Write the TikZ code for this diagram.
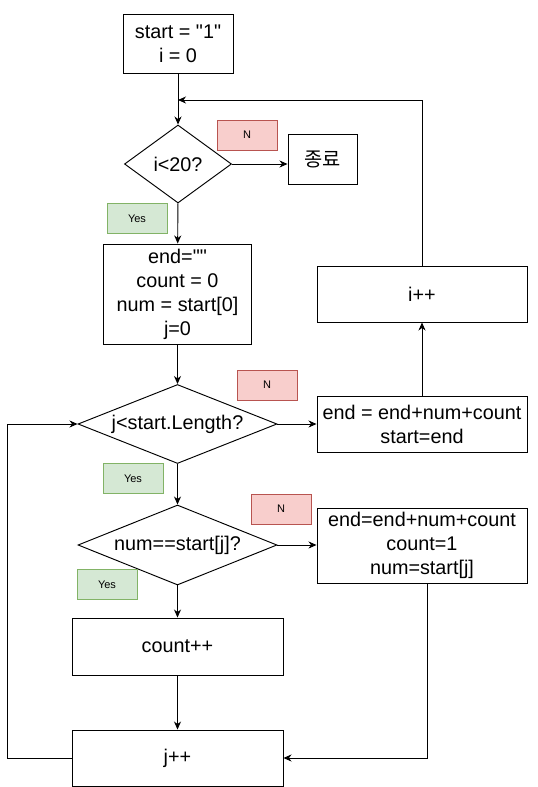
\documentclass[tikz,border=0pt]{standalone}
\usepackage{fontspec}
\setmainfont{Liberation Sans}
\newfontfamily\kofont{Noto Sans CJK KR}
\usetikzlibrary{arrows.meta,shapes.geometric,positioning}
\definecolor{nfill}{HTML}{F8CECC}
\definecolor{nline}{HTML}{B85450}
\definecolor{yfill}{HTML}{D5E8D4}
\definecolor{yline}{HTML}{82B366}
\newcommand{\dq}{\textquotedbl}
\begin{document}
\begin{tikzpicture}[
    x=1pt, y=-1pt,
    line width=0.95pt,
    font=\fontsize{19.8}{24}\selectfont,
    box/.style={rectangle, draw, align=center, inner sep=0pt},
    decision/.style={diamond, draw, inner sep=0pt, aspect=2.5},
    nlabel/.style={rectangle, draw=nline, fill=nfill, line width=0.8pt, minimum width=60, minimum height=30, inner sep=0pt, font=\fontsize{11}{13}\selectfont},
    ylabel/.style={rectangle, draw=yline, fill=yfill, line width=0.8pt, minimum width=60, minimum height=30, inner sep=0pt, font=\fontsize{11}{13}\selectfont},
    flow/.style={-{Stealth[length=8pt,width=7pt,inset=2.5pt]}}
]
\useasboundingbox (0,0) rectangle (538,787);

% Main column
\node[box, minimum width=110, minimum height=59] (init) at (178,43.5) {start = \dq1\dq\\i = 0};
\coordinate (merge) at (178,100);
\node[decision, minimum width=107, minimum height=78] (icheck) at (178,164) {\makebox[0pt]{i<20?}};
\node[box, minimum width=69, minimum height=50] (quit) at (322.5,159) {\kofont 종료};
\node[box, minimum width=148, minimum height=100] (setup) at (177.5,294) {end=\dq\dq\\count = 0\\num = start[0]\\j=0};
\node[decision, minimum width=199, minimum height=79] (jcheck) at (177.5,424) {\makebox[0pt]{j<start.Length?}};
\node[decision, minimum width=199, minimum height=80] (numcheck) at (177.5,545) {\makebox[0pt]{num==start[j]?}};
\node[box, minimum width=211, minimum height=57] (cinc) at (177.5,646.5) {count++};
\node[box, minimum width=211, minimum height=56] (jinc) at (177.5,758) {j++};

% Right column
\node[box, minimum width=210, minimum height=56] (iinc) at (422,294) {i++};
\node[box, minimum width=210, minimum height=56] (flush) at (422,424) {end = end+num+count\\start=end};
\node[box, minimum width=210, minimum height=75] (reset) at (422,545.5) {end=end+num+count\\count=1\\num=start[j]};

% Branch labels
\node[nlabel] (n1) at (247,135) {N};
\node[ylabel] (y1) at (137,218.5) {Yes};
\node[nlabel] (n2) at (267,385) {N};
\node[ylabel] (y2) at (133,478.5) {Yes};
\node[nlabel] (n3) at (281,509) {N};
\node[ylabel] (y3) at (107,584.5) {Yes};

% Connectors
\draw[flow] (init) -- (icheck);
\draw[flow] (icheck.east) -- (icheck.east -| quit.west);
\draw[flow] (icheck) -- (setup);
\draw[flow] (setup) -- (jcheck);
\draw[flow] (jcheck) -- (flush);
\draw[flow] (flush) -- (iinc);
\draw[flow] (iinc.north) |- (merge);
\draw[flow] (jcheck) -- (numcheck);
\draw[flow] (numcheck.east) -- (numcheck.east -| reset.west);
\draw[flow] (numcheck) -- (cinc);
\draw[flow] (cinc) -- (jinc);
\draw[flow] ([xshift=5]reset.south) |- (jinc.east);
\draw[flow] (jinc.west) -- ++(-64,0) |- (jcheck.west);

\end{tikzpicture}
\end{document}
